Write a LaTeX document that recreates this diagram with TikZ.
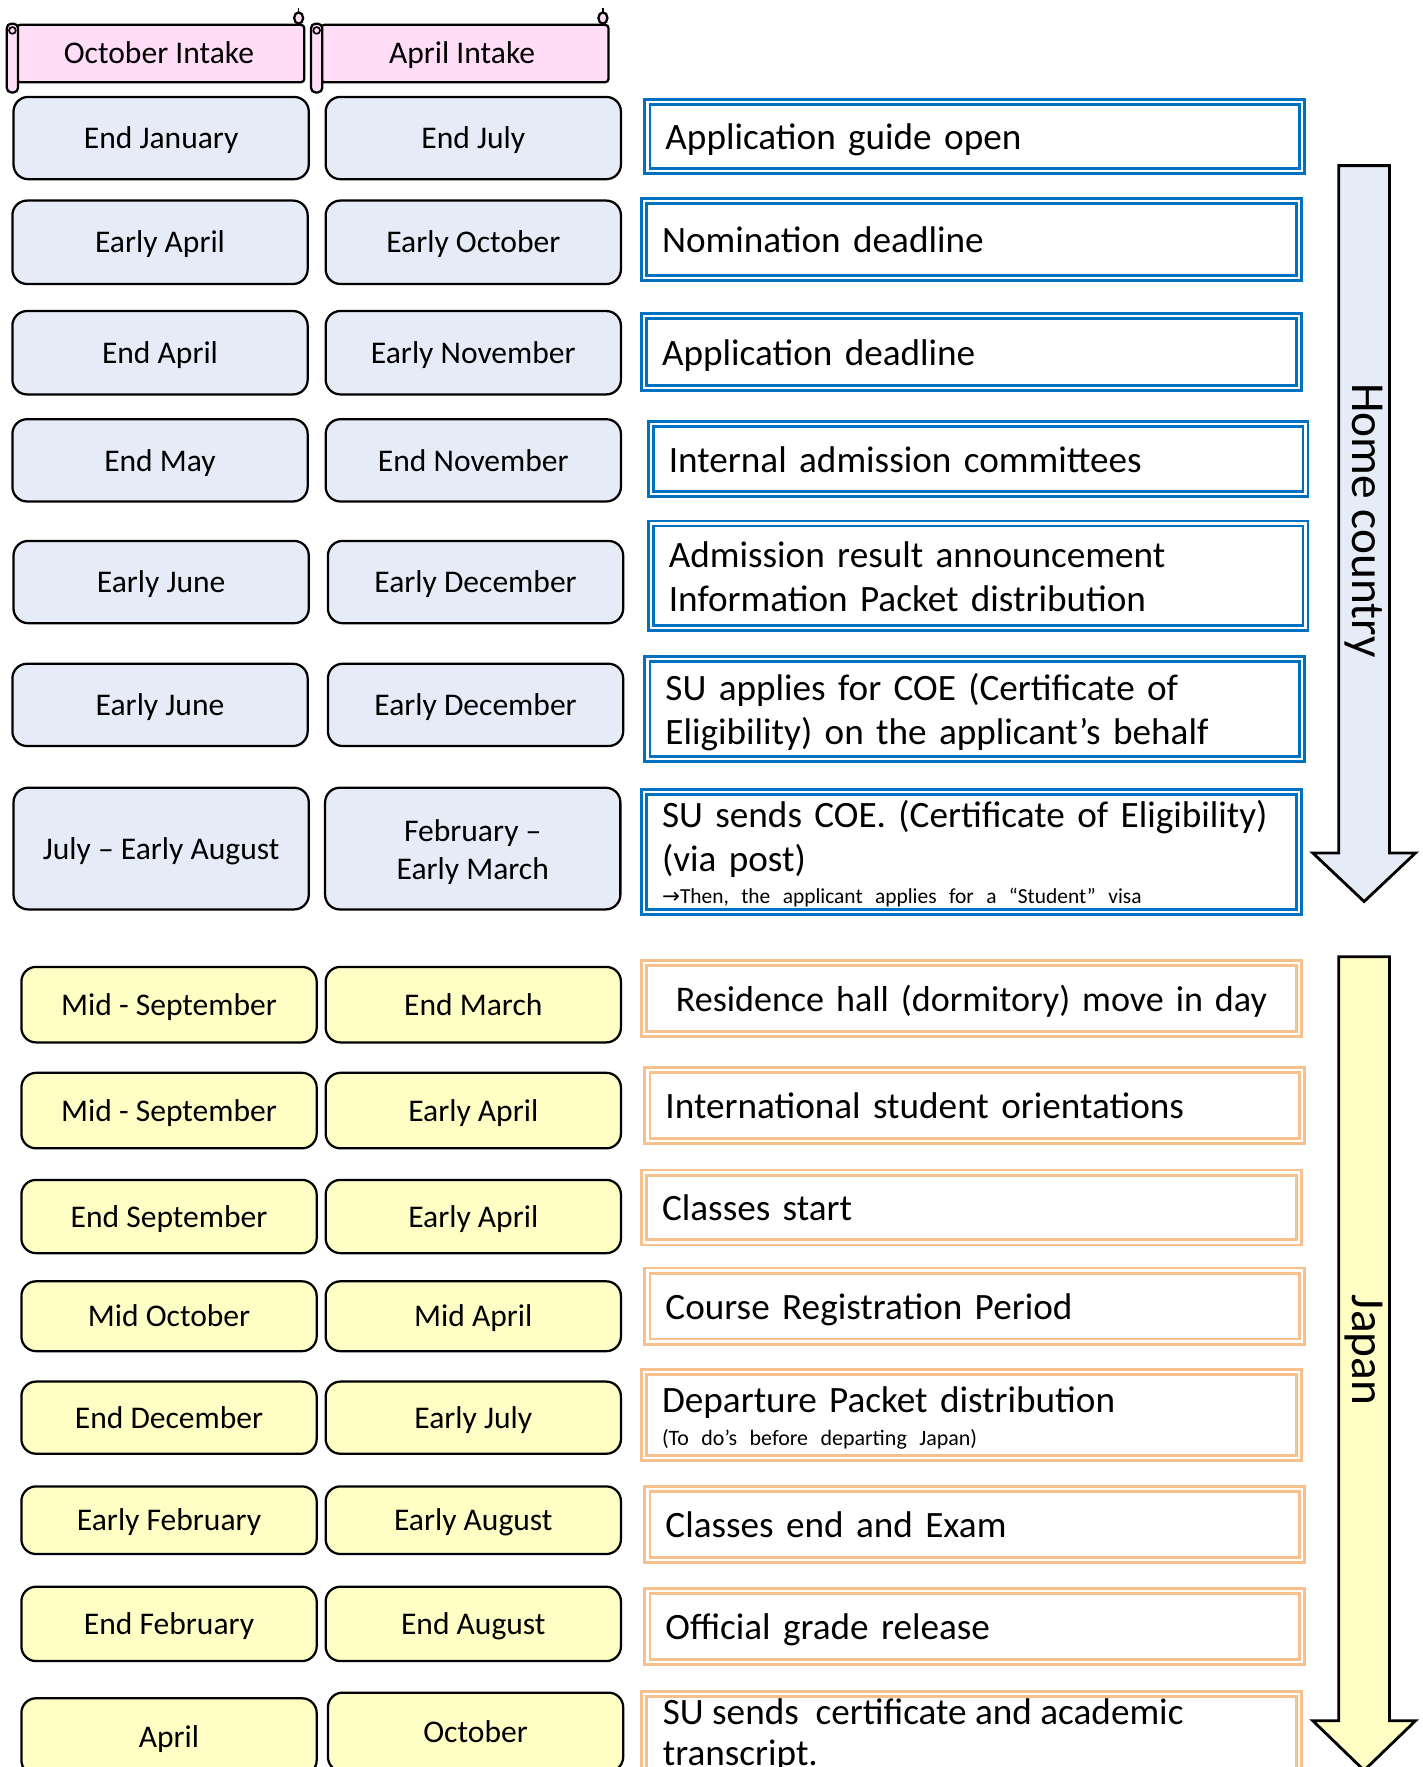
\documentclass[tikz,border=0pt]{standalone}
\usepackage{fontspec}
\setmainfont{Carlito}
\newfontfamily\djv{DejaVu Sans}
\newcommand\smalltxt{\fontsize{19.5}{24}\selectfont}
\definecolor{bfill}{HTML}{E5ECF7}
\definecolor{yfill}{HTML}{FFFFC5}
\definecolor{pfill}{HTML}{FFDDF7}
\definecolor{bline}{HTML}{0070C0}
\definecolor{oline}{HTML}{F8C08C}
\tikzset{
  datebox/.style={draw=black, line width=2pt, rounded corners=13pt, minimum width=262pt, inner sep=0pt, align=center, font=\fontsize{28}{34}\selectfont, text height=21pt, text depth=2pt},
  bdate/.style={datebox, fill=bfill},
  ydate/.style={datebox, fill=yfill},
  descbox/.style={double=white, double distance=2pt, line width=2.5pt, minimum width=581pt, text width=549pt, inner xsep=16pt, inner ysep=0pt, align=left, font=\fontsize{33}{39}\selectfont, text height=25pt, text depth=2pt},
  bdesc/.style={descbox, draw=bline},
  odesc/.style={descbox, draw=oline},
  scrollline/.style={draw=black, line width=2pt, fill=pfill},
  hdrtext/.style={font=\fontsize{28}{34}\selectfont, inner sep=0pt, text height=21pt, text depth=2pt},
  bigarrow/.style={draw=black, line width=2.5pt, line join=miter},
  arrowtext/.style={font=\fontsize{42}{48}\selectfont, rotate=-90, inner sep=0pt}
}
\begin{document}
\begin{tikzpicture}[x=1pt, y=-1pt]
\useasboundingbox (0,0) rectangle (1262,1568);
\clip (0,0) rectangle (1262,1568);
\fill[white] (0,0) rectangle (1262,1568);

% ---------- scroll headers ----------
\draw[scrollline, rounded corners=3pt] (15,22) rectangle (270,73);
\draw[scrollline, rounded corners=4pt] (6,21) rectangle (16,82);
\draw[line width=1.5pt] (11,27) circle (3);
\draw[line width=1.5pt] (265,7) -- (265,12);
\draw[scrollline] (265,16) ellipse (4 and 5);
\node[hdrtext] (octhdr) at (141,47) {October Intake};

\draw[scrollline, rounded corners=3pt] (285,22) rectangle (540,73);
\draw[scrollline, rounded corners=4pt] (276,21) rectangle (286,82);
\draw[line width=1.5pt] (281,27) circle (3);
\draw[line width=1.5pt] (535,7) -- (535,12);
\draw[scrollline] (535,16) ellipse (4 and 5);
\node[hdrtext] (aprhdr) at (410,47) {April Intake};

% ---------- home country section ----------
\node[bdate, minimum height=73pt] (o1) at (143,122.5) {End January};
\node[bdate, minimum height=73pt] (a1) at (420,122.5) {End July};
\node[bdesc, minimum height=61pt] (d1) at (865,121) {Application guide open};

\node[bdate, minimum height=74pt] (o2) at (142,215) {Early April};
\node[bdate, minimum height=74pt] (a2) at (420,215) {Early October};
\node[bdesc, minimum height=68pt] (d2) at (862,212.5) {Nomination deadline};

\node[bdate, minimum height=74pt] (o3) at (142,313) {End April};
\node[bdate, minimum height=74pt] (a3) at (420,313) {Early November};
\node[bdesc, minimum height=64pt] (d3) at (862,312.5) {Application deadline};

\node[bdate, minimum height=73pt] (o4) at (142,408.5) {End May};
\node[bdate, minimum height=73pt] (a4) at (420,408.5) {End November};
\node[bdesc, minimum height=62pt] (d4) at (868,407.5) {Internal admission committees};

\node[bdate, minimum height=73pt] (o5) at (143,516.5) {Early June};
\node[bdate, minimum height=73pt] (a5) at (422,516.5) {Early December};
\node[bdesc, minimum height=93pt, text depth=40pt] (d5) at (868,511) {Admission result announcement\\Information Packet distribution};

\node[bdate, minimum height=73pt] (o6) at (142,625.5) {Early June};
\node[bdate, minimum height=73pt] (a6) at (422,625.5) {Early December};
\node[bdesc, minimum height=89pt, text depth=40pt] (d6) at (865,629) {SU applies for COE (Certificate of\\Eligibility) on the applicant’s behalf};

\node[bdate, minimum height=108pt] (o7) at (143,753) {July – Early August};
\node[bdate, minimum height=108pt, text height=57pt] (a7) at (419.5,753) {February –\\Early March};
\node[bdesc, minimum height=107pt, text depth=68pt] (d7) at (862,756) {SU sends COE. (Certificate of Eligibility)\\(via post)\\[-10.5pt]{\fontsize{19}{24}\selectfont{\djv →}Then, the applicant applies for a “Student” visa}};

\draw[bigarrow, fill=bfill] (1188,147) -- (1233,147) -- (1233,757) -- (1256,757) -- (1210.5,800) -- (1165,757) -- (1188,757) -- cycle;
\node[arrowtext] (homelbl) at (1210.5,462) {Home country};

% ---------- Japan section ----------
\node[ydate, minimum height=67pt] (o8) at (150,891.5) {Mid - September};
\node[ydate, minimum height=67pt] (a8) at (420,891.5) {End March};
\node[odesc, minimum height=63pt, align=center, font=\fontsize{32}{39}\selectfont] (d8) at (862,886) {Residence hall (dormitory) move in day};

\node[ydate, minimum height=67pt] (o9) at (150,985.5) {Mid - September};
\node[ydate, minimum height=67pt] (a9) at (420,985.5) {Early April};
\node[odesc, minimum height=63pt] (d9) at (865,981) {International student orientations};

\node[ydate, minimum height=65pt] (o10) at (150,1079.5) {End September};
\node[ydate, minimum height=65pt] (a10) at (420,1079.5) {Early April};
\node[odesc, minimum height=62pt] (d10) at (862,1071.5) {Classes start};

\node[ydate, minimum height=62pt] (o11) at (150,1168) {Mid October};
\node[ydate, minimum height=62pt] (a11) at (420,1168) {Mid April};
\node[odesc, minimum height=63pt] (d11) at (865,1159) {Course Registration Period};

\node[ydate, minimum height=64pt] (o12) at (150,1258) {End December};
\node[ydate, minimum height=64pt] (a12) at (420,1258) {Early July};
\node[odesc, minimum height=76pt, text depth=29pt] (d12) at (862,1255.5) {Departure Packet distribution\\[-10pt]{\smalltxt(To do’s before departing Japan)}};

\node[ydate, minimum height=60pt] (o13) at (150,1349) {Early February};
\node[ydate, minimum height=60pt] (a13) at (420,1349) {Early August};
\node[odesc, minimum height=63pt] (d13) at (865,1353) {Classes end and Exam};

\node[ydate, minimum height=66pt] (o14) at (150,1441) {End February};
\node[ydate, minimum height=66pt] (a14) at (420,1441) {End August};
\node[odesc, minimum height=63pt] (d14) at (865,1443) {Official grade release};

\node[ydate, minimum height=68pt] (o15) at (150,1541) {April};
\node[ydate, minimum height=70pt] (a15) at (422,1537) {October};
\node[odesc, minimum height=93pt] (d15) at (862,1550) {};
\node[font=\fontsize{33}{36}\selectfont, align=left, anchor=north west, inner sep=0pt, text height=61pt] (d15t) at (588,1505.5) {SU sends\ \ certificate and academic\\transcript.};

\draw[bigarrow, fill=yfill] (1188,849) -- (1233,849) -- (1233,1527) -- (1256,1527) -- (1210.5,1571) -- (1165,1527) -- (1188,1527) -- cycle;
\node[arrowtext] (japanlbl) at (1210.5,1198) {Japan};
\end{tikzpicture}
\end{document}
